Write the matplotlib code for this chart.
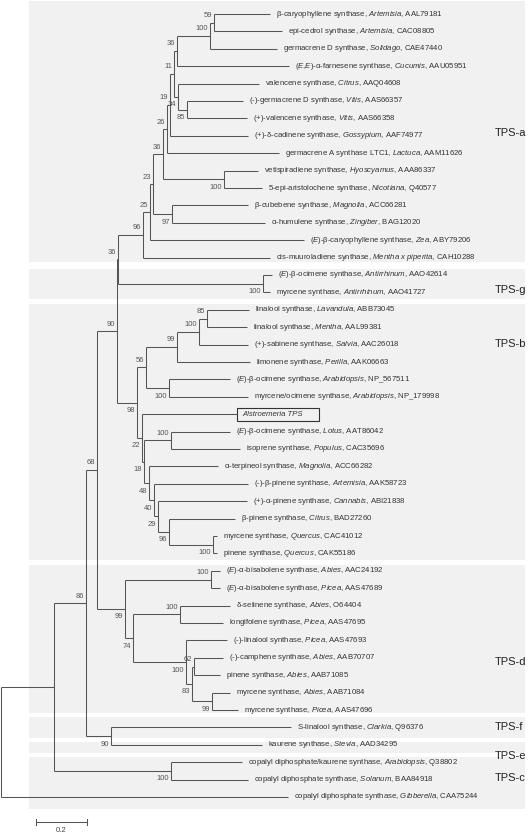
import matplotlib
matplotlib.use("Agg")
import matplotlib.pyplot as plt
from matplotlib.patches import Rectangle

plt.rcParams['font.family'] = ['Liberation Sans', 'DejaVu Sans']
plt.rcParams['mathtext.fontset'] = 'custom'
plt.rcParams['mathtext.rm'] = 'Liberation Sans'
plt.rcParams['mathtext.it'] = 'Liberation Sans:italic'

E = r"($\mathit{E}$)"

# ---------------- data ----------------
leaf_enzyme = [
    "β-caryophyllene synthase", "epi-cedrol synthase", "germacrene D synthase",
    r"($\mathit{E}$,$\mathit{E}$)-α-farnesene synthase", "valencene synthase",
    "(-)-germacrene D synthase", "(+)-valencene synthase", "(+)-δ-cadinene synthase",
    "germacrene A synthase LTC1", "vetispiradiene synthase", "5-epi-aristolochene synthase",
    "β-cubebene synthase", "α-humulene synthase", E + "-β-caryophyllene synthase",
    "cis-muuroladiene synthase",
    E + "-β-ocimene synthase", "myrcene synthase",
    "linalool synthase", "linalool synthase", "(+)-sabinene synthase", "limonene synthase",
    E + "-β-ocimene synthase", "myrcene/ocimene synthase", None,
    E + "-β-ocimene synthase", "isoprene synthase", "α-terpineol synthase",
    "(-)-β-pinene synthase", "(+)-α-pinene synthase", "β-pinene synthase",
    "myrcene synthase", "pinene synthase",
    E + "-α-bisabolene synthase", E + "-α-bisabolene synthase", "δ-selinene synthase",
    "longifolene synthase", "(-)-linalool synthase", "(-)-camphene synthase",
    "pinene synthase", "myrcene synthase", "myrcene synthase",
    "S-linalool synthase", "kaurene synthase",
    "copalyl diphosphate/kaurene synthase", "copalyl diphosphate synthase",
    "copalyl diphosphate synthase",
]
leaf_genus = [
    "Artemisia", "Artemisia", "Solidago", "Cucumis", "Citrus", "Vitis", "Vitis",
    "Gossypium", "Lactuca", "Hyoscyamus", "Nicotiana", "Magnolia", "Zingiber", "Zea",
    "Mentha x piperita", "Antirrhinum", "Antirrhinum", "Lavandula", "Mentha", "Salvia",
    "Perilla", "Arabidopsis", "Arabidopsis", "Alstroemeria TPS", "Lotus", "Populus",
    "Magnolia", "Artemisia", "Cannabis", "Citrus", "Quercus", "Quercus", "Abies", "Picea",
    "Abies", "Picea", "Picea", "Abies", "Abies", "Abies", "Picea", "Clarkia", "Stevia",
    "Arabidopsis", "Solanum", "Gibberella",
]
leaf_acc = [
    "AAL79181", "CAC08805", "CAE47440", "AAU05951", "AAQ04608", "AAS66357", "AAS66358",
    "AAF74977", "AAM11626", "AAA86337", "Q40577", "ACC66281", "BAG12020", "ABY79206",
    "CAH10288", "AAO42614", "AAO41727", "ABB73045", "AAL99381", "AAC26018", "AAK06663",
    "NP_567511", "NP_179998", None, "AAT86042", "CAC35696", "ACC66282", "AAK58723",
    "ABI21838", "BAD27260", "CAC41012", "CAK55186", "AAC24192", "AAS47689", "O64404",
    "AAS47695", "AAS47693", "AAB70707", "AAB71085", "AAB71084", "AAS47696", "Q96376",
    "AAD34295", "Q38802", "BAA84918", "CAA75244",
]
# distance of each tip from the root (substitutions per site)
tip_depth = [
    1.055, 1.102, 1.082, 1.129, 1.012, 0.949, 0.965, 0.969, 1.090, 1.008, 1.024,
    0.969, 1.035, 1.188, 1.055, 1.063, 1.055, 0.973, 0.965, 0.969, 0.976, 0.898,
    0.969, 0.925, 0.898, 0.937, 0.851, 0.969, 0.965, 0.918, 0.847, 0.847, 0.859,
    0.859, 0.898, 0.871, 0.886, 0.871, 0.859, 0.898, 0.929, 1.137, 1.024, 0.945,
    0.969, 1.125,
]
# internal nodes
node_ids = ['a1', 'a2', 'a3', 'a4', 'a5', 'a6', 'a7', 'a8', 'a9', 'a10', 'a11', 'a12',
            'a13', 'a14', 'g1', 'ag', 'b1', 'b2', 'b3', 'b4', 'b5', 'b6', 'b7', 'b8',
            'b9', 'b10', 'b11', 'b12', 'b13', 'b14', 'agb', 'd1', 'd2', 'd3', 'd4',
            'd5', 'd6', 'd7', 'd8', 'abd', 'fe', 'n86', 'c1', 'n54', 'root']
node_kids = [[0, 1], ['a1', 2], ['a2', 3], [5, 6], [4, 'a4'], ['a3', 'a5'], ['a6', 7],
             ['a7', 8], [9, 10], ['a8', 'a9'], [11, 12], ['a10', 'a11'], ['a12', 13],
             ['a13', 14], [15, 16], ['a14', 'g1'], [17, 18], ['b1', 19], ['b2', 20],
             [21, 22], ['b3', 'b4'], [24, 25], [30, 31], [29, 'b7'], [28, 'b8'],
             [27, 'b9'], [26, 'b10'], ['b6', 'b11'], [23, 'b12'], ['b5', 'b13'],
             ['ag', 'b14'], [32, 33], [34, 35], [37, 38], [39, 40], ['d3', 'd4'],
             [36, 'd5'], ['d2', 'd6'], ['d1', 'd7'], ['agb', 'd8'], [41, 42],
             ['abd', 'fe'], [43, 44], ['n86', 'c1'], ['n54', 45]]
node_depth = [0.835, 0.820, 0.690, 0.729, 0.694, 0.678, 0.663, 0.651, 0.875, 0.635,
              0.671, 0.596, 0.584, 0.557, 1.027, 0.459, 0.808, 0.776, 0.690, 0.659,
              0.569, 0.667, 0.833, 0.659, 0.616, 0.600, 0.580, 0.561, 0.553, 0.533,
              0.454, 0.824, 0.702, 0.757, 0.827, 0.749, 0.725, 0.518, 0.486, 0.376,
              0.431, 0.333, 0.667, 0.208, 0.0]
node_boot = [59, 100, 36, 85, 34, 11, 19, 26, 100, 36, 97, 23, 25, 96, 100, 36, 85, 100,
             99, 100, 56, 100, 100, 96, 29, 40, 48, 18, 22, 98, 90, 100, 100, 62, 99, 83,
             100, 74, 99, 68, 90, 86, 100, None, None]
groups = ['TPS-a', 'TPS-g', 'TPS-b', 'TPS-d', 'TPS-f', 'TPS-e', 'TPS-c']
scale_value = 0.2

# ---------------- layout ----------------
below = {'a4', 'a5', 'a9', 'a11', 'g1', 'b4', 'b7', 'b8', 'b9', 'b10', 'b11', 'b12',
         'b13', 'b14', 'd4', 'd5', 'd6', 'd7', 'd8', 'fe', 'c1'}
panel_rows = [(-0.75, 14.25), (14.66, 16.38), (16.67, 31.38), (31.67, 40.17),
              (40.40, 41.60), (41.84, 42.47), (42.70, 45.70)]
group_label_rows = [6.84, 15.86, 18.97, 37.24, 40.98, 42.64, 43.90]

W, H = 532, 833
PXX = 1 / 255.0      # data units per pixel (x)
PXY = 1 / 17.4       # rows per pixel (y)
fig = plt.figure(figsize=(W / 100, H / 100), dpi=100)
ax = fig.add_axes([0, 0, 1, 1])
ax.set_xlim(-1 * PXX, (W - 1) * PXX)
ax.set_ylim((H - 14) * PXY, -14 * PXY)
ax.axis('off')

LC = '#555555'
LW = 0.75
FS = 5.6

# panels
for (t, b), g, gy in zip(panel_rows, groups, group_label_rows):
    ax.add_patch(Rectangle((28 * PXX, t), (525 - 29) * PXX, b - t,
                           facecolor='#f1f1f1', edgecolor='none', zorder=0))
    ax.text(494 * PXX, gy, g, fontsize=8, color='#222222', ha='left', va='center')

idx = {n: i for i, n in enumerate(node_ids)}


def depth(n):
    return tip_depth[n] if isinstance(n, int) else node_depth[idx[n]]


def ypos(n):
    if isinstance(n, int):
        return float(n)
    k = node_kids[idx[n]]
    return (ypos(k[0]) + ypos(k[-1])) / 2.0


for n in node_ids:
    kids = node_kids[idx[n]]
    x = depth(n)
    ys = [ypos(k) for k in kids]
    ax.plot([x, x], [min(ys), max(ys)], color=LC, lw=LW, solid_capstyle='butt')
    for k, yk in zip(kids, ys):
        ax.plot([x, depth(k)], [yk, yk], color=LC, lw=LW, solid_capstyle='butt')
    bs = node_boot[idx[n]]
    if bs is not None:
        off = 8 * PXY if n in below else -7 * PXY
        ax.text(x - 2 * PXX, ypos(n) + off, str(bs), ha='right', va='center',
                fontsize=5.5, color='#555555')

# leaf labels
for i in range(len(tip_depth)):
    x0 = tip_depth[i] + 6 * PXX
    if leaf_enzyme[i] is None:
        ax.text(x0, i, leaf_genus[i], fontsize=FS, style='italic', color='#333333',
                ha='left', va='center')
        ax.add_patch(Rectangle((tip_depth[i], i - 6.5 * PXY), 82 * PXX, 13 * PXY,
                               facecolor='none', edgecolor='#333333', lw=0.8))
        continue
    genus = leaf_genus[i].replace(' ', r'\ ')
    s = leaf_enzyme[i] + ", $\\mathit{" + genus + "}$, " + leaf_acc[i]
    ax.text(x0, i, s, fontsize=FS, color='#333333', ha='left', va='center')

# scale bar
sx0 = 35 * PXX
sy = (822 - 14) * PXY
ax.plot([sx0, sx0 + scale_value], [sy, sy], color=LC, lw=LW)
for sx in (sx0, sx0 + scale_value):
    ax.plot([sx, sx], [sy - 3 * PXY, sy + 3 * PXY], color=LC, lw=LW)
ax.text(sx0 + scale_value / 2, (830 - 14) * PXY, str(scale_value), ha='center',
        va='center', fontsize=FS, color='#444444')

fig.savefig('out.png', dpi=100, facecolor='white')
